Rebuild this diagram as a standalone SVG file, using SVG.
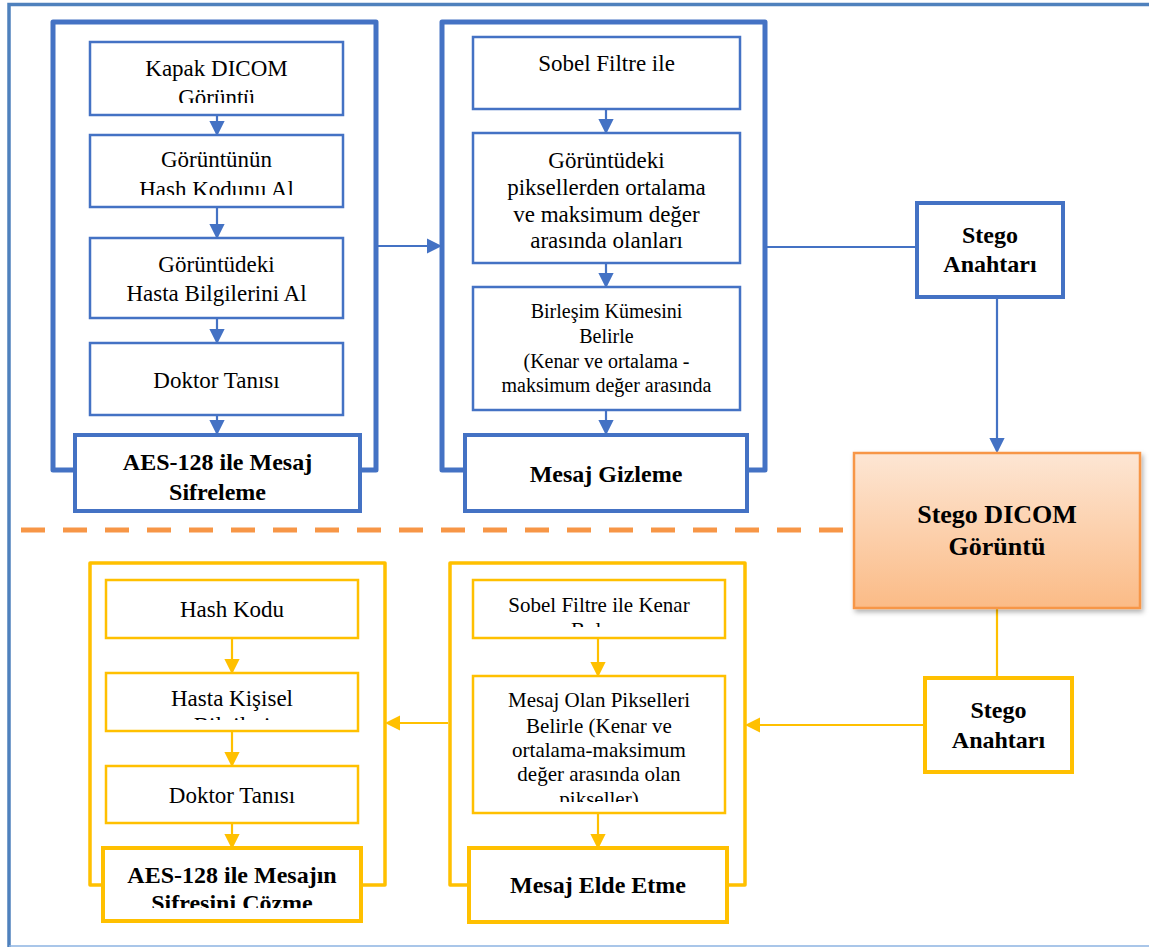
<svg xmlns="http://www.w3.org/2000/svg" width="1149" height="947" viewBox="0 0 1149 947">
<style>
.t{font-family:"Liberation Serif","Times New Roman",serif;font-size:23px;fill:#000;text-anchor:middle}
.s20{font-size:20px}
.s21{font-size:21px}
.b{font-weight:bold;font-size:24px}
.bcont{fill:none;stroke:#4472c4;stroke-width:5;stroke-linejoin:round}
.bbox{fill:#fff;stroke:#4472c4;stroke-width:2.5}
.bbold{fill:#fff;stroke:#4472c4;stroke-width:4}
.ycont{fill:none;stroke:#ffc000;stroke-width:3.5;stroke-linejoin:round}
.ybox{fill:#fff;stroke:#ffc000;stroke-width:2.5}
.ybold{fill:#fff;stroke:#ffc000;stroke-width:4}
.bl{fill:none;stroke:#4472c4;stroke-width:2.2}
.yl{fill:none;stroke:#ffc000;stroke-width:2.2}
</style>
<defs>
<marker id="ab" markerWidth="7" markerHeight="7" refX="6" refY="3.5" orient="auto" markerUnits="strokeWidth"><path d="M0,0 L7,3.5 L0,7 z" fill="#4472c4"/></marker>
<marker id="ay" markerWidth="7" markerHeight="7" refX="6" refY="3.5" orient="auto" markerUnits="strokeWidth"><path d="M0,0 L7,3.5 L0,7 z" fill="#ffc000"/></marker>
<linearGradient id="og" x1="0" y1="0" x2="0" y2="1"><stop offset="0" stop-color="#fde6d4"/><stop offset="1" stop-color="#fbbb86"/></linearGradient>
<filter id="sh" x="-10%" y="-10%" width="130%" height="130%"><feDropShadow dx="2" dy="3" stdDeviation="2.5" flood-color="#000" flood-opacity="0.3"/></filter>
<clipPath id="c1"><rect x="90" y="42" width="253" height="61"/></clipPath>
<clipPath id="c2"><rect x="90" y="135" width="253" height="60"/></clipPath>
<clipPath id="c3"><rect x="106" y="673" width="252" height="47"/></clipPath>
<clipPath id="c4"><rect x="103" y="848" width="258" height="60"/></clipPath>
<clipPath id="c5"><rect x="473" y="580" width="252" height="47"/></clipPath>
<clipPath id="c6"><rect x="473" y="676" width="252" height="126"/></clipPath>
</defs>
<rect width="1149" height="947" fill="#fff"/>
<g id="frame">
<path d="M9,947 V4.5 H1149" fill="none" stroke="#4f81bd" stroke-width="3.5"/>
<path d="M9,946 H1149" fill="none" stroke="#8db3e2" stroke-width="1.5"/>
<path d="M21,530 H843" fill="none" stroke="#f79646" stroke-width="5" stroke-dasharray="24 18"/>
</g>
<g id="containers">
<path class="bcont" d="M75,470 H53 V22 H376 V470 H360"/>
<path class="bcont" d="M465,470 H442 V22 H765 V470 H747"/>
<path class="ycont" d="M103,885 H90 V563 H385 V885 H361"/>
<path class="ycont" d="M469,885 H450 V563 H745 V885 H727"/>
</g>
<g id="connectors">
<path class="bl" d="M217,115 V134" marker-end="url(#ab)"/>
<path class="bl" d="M217,207 V237" marker-end="url(#ab)"/>
<path class="bl" d="M217,318 V342" marker-end="url(#ab)"/>
<path class="bl" d="M217,415 V433" marker-end="url(#ab)"/>
<path class="bl" d="M606,109 V132" marker-end="url(#ab)"/>
<path class="bl" d="M606,263 V286" marker-end="url(#ab)"/>
<path class="bl" d="M606,410 V433" marker-end="url(#ab)"/>
<path class="bl" d="M378,246 H440" marker-end="url(#ab)"/>
<path class="bl" d="M767,247 H917"/>
<path class="bl" d="M997,297 V451" marker-end="url(#ab)"/>
<path class="yl" d="M997,608 V678"/>
<path class="yl" d="M925,725 H747" marker-end="url(#ay)"/>
<path class="yl" d="M448,723 H387" marker-end="url(#ay)"/>
<path class="yl" d="M232,638 V672" marker-end="url(#ay)"/>
<path class="yl" d="M232,731 V765" marker-end="url(#ay)"/>
<path class="yl" d="M232,823 V847" marker-end="url(#ay)"/>
<path class="yl" d="M598,638 V675" marker-end="url(#ay)"/>
<path class="yl" d="M598,813 V847" marker-end="url(#ay)"/>
</g>
<g id="n1"><rect class="bbox" x="90" y="42" width="253" height="73"/>
<g clip-path="url(#c1)"><text class="t" x="216.5" y="76">Kapak DICOM</text><text class="t" x="216.5" y="105">Görüntü</text></g></g>
<g id="n2"><rect class="bbox" x="90" y="135" width="253" height="72"/>
<g clip-path="url(#c2)"><text class="t" x="216.5" y="167">Görüntünün</text><text class="t" x="216.5" y="197">Hash Kodunu Al</text></g></g>
<g id="n3"><rect class="bbox" x="90" y="238" width="253" height="80"/>
<text class="t" x="216.5" y="272">Görüntüdeki</text><text class="t" x="216.5" y="301">Hasta Bilgilerini Al</text></g>
<g id="n4"><rect class="bbox" x="90" y="343" width="253" height="72"/>
<text class="t" x="216.5" y="388">Doktor Tanısı</text></g>
<g id="n5"><rect class="bbold" x="75" y="435" width="285" height="76"/>
<text class="t b" x="217.5" y="470">AES-128 ile Mesaj</text><text class="t b" x="217.5" y="500">Sifreleme</text></g>
<g id="n6"><rect class="bbox" x="473" y="37" width="267" height="72"/>
<text class="t" x="606.5" y="71">Sobel Filtre ile</text></g>
<g id="n7"><rect class="bbox" x="473" y="133" width="267" height="130"/>
<text class="t" x="606.5" y="168">Görüntüdeki</text><text class="t" x="606.5" y="195">piksellerden ortalama</text><text class="t" x="606.5" y="222">ve maksimum değer</text><text class="t" x="606.5" y="248">arasında olanları</text></g>
<g id="n8"><rect class="bbox" x="473" y="287" width="267" height="123"/>
<text class="t s20" x="606.5" y="318">Birleşim Kümesini</text><text class="t s20" x="606.5" y="343">Belirle</text><text class="t s20" x="606.5" y="368">(Kenar ve ortalama -</text><text class="t s20" x="606.5" y="392">maksimum değer arasında</text></g>
<g id="n9"><rect class="bbold" x="465" y="435" width="282" height="76"/>
<text class="t b" x="606" y="482">Mesaj Gizleme</text></g>
<g id="n10"><rect fill="#fff" stroke="#4472c4" stroke-width="4" x="917" y="203" width="146" height="94"/>
<text class="t b" x="990" y="243">Stego</text><text class="t b" x="990" y="272">Anahtarı</text></g>
<g id="n11"><rect fill="url(#og)" stroke="#f79646" stroke-width="2.5" filter="url(#sh)" x="854" y="453" width="286" height="155"/>
<text class="t b" style="font-size:26px" x="997" y="523">Stego DICOM</text><text class="t b" style="font-size:26px" x="997" y="555">Görüntü</text></g>
<g id="n12"><rect fill="#fff" stroke="#ffc000" stroke-width="4" x="925" y="678" width="147" height="94"/>
<text class="t b" x="998.5" y="718">Stego</text><text class="t b" x="998.5" y="748">Anahtarı</text></g>
<g id="n13"><rect class="ybox" x="106" y="580" width="252" height="58"/>
<text class="t" x="232" y="617">Hash Kodu</text></g>
<g id="n14"><rect class="ybox" x="106" y="673" width="252" height="58"/>
<g clip-path="url(#c3)"><text class="t" x="232" y="706">Hasta Kişisel</text><text class="t" x="232" y="733">Bilgileri</text></g></g>
<g id="n15"><rect class="ybox" x="106" y="766" width="252" height="57"/>
<text class="t" x="232" y="803">Doktor Tanısı</text></g>
<g id="n16"><rect class="ybold" x="103" y="848" width="258" height="73"/>
<g clip-path="url(#c4)"><text class="t b" x="232" y="883">AES-128 ile Mesajın</text><text class="t b" x="232" y="911">Sifresini Çözme</text></g></g>
<g id="n17"><rect class="ybox" x="473" y="580" width="252" height="58"/>
<g clip-path="url(#c5)"><text class="t s21" x="599" y="612">Sobel Filtre ile Kenar</text><text class="t s21" x="599" y="637">Bulma</text></g></g>
<g id="n18"><rect class="ybox" x="473" y="676" width="252" height="137"/>
<g clip-path="url(#c6)"><text class="t s21" x="599" y="707">Mesaj Olan Pikselleri</text><text class="t s21" x="599" y="733">Belirle (Kenar ve</text><text class="t s21" x="599" y="757">ortalama-maksimum</text><text class="t s21" x="599" y="781">değer arasında olan</text><text class="t s21" x="599" y="806">pikseller)</text></g></g>
<g id="n19"><rect class="ybold" x="469" y="848" width="258" height="74"/>
<text class="t b" x="598" y="893">Mesaj Elde Etme</text></g>
</svg>
